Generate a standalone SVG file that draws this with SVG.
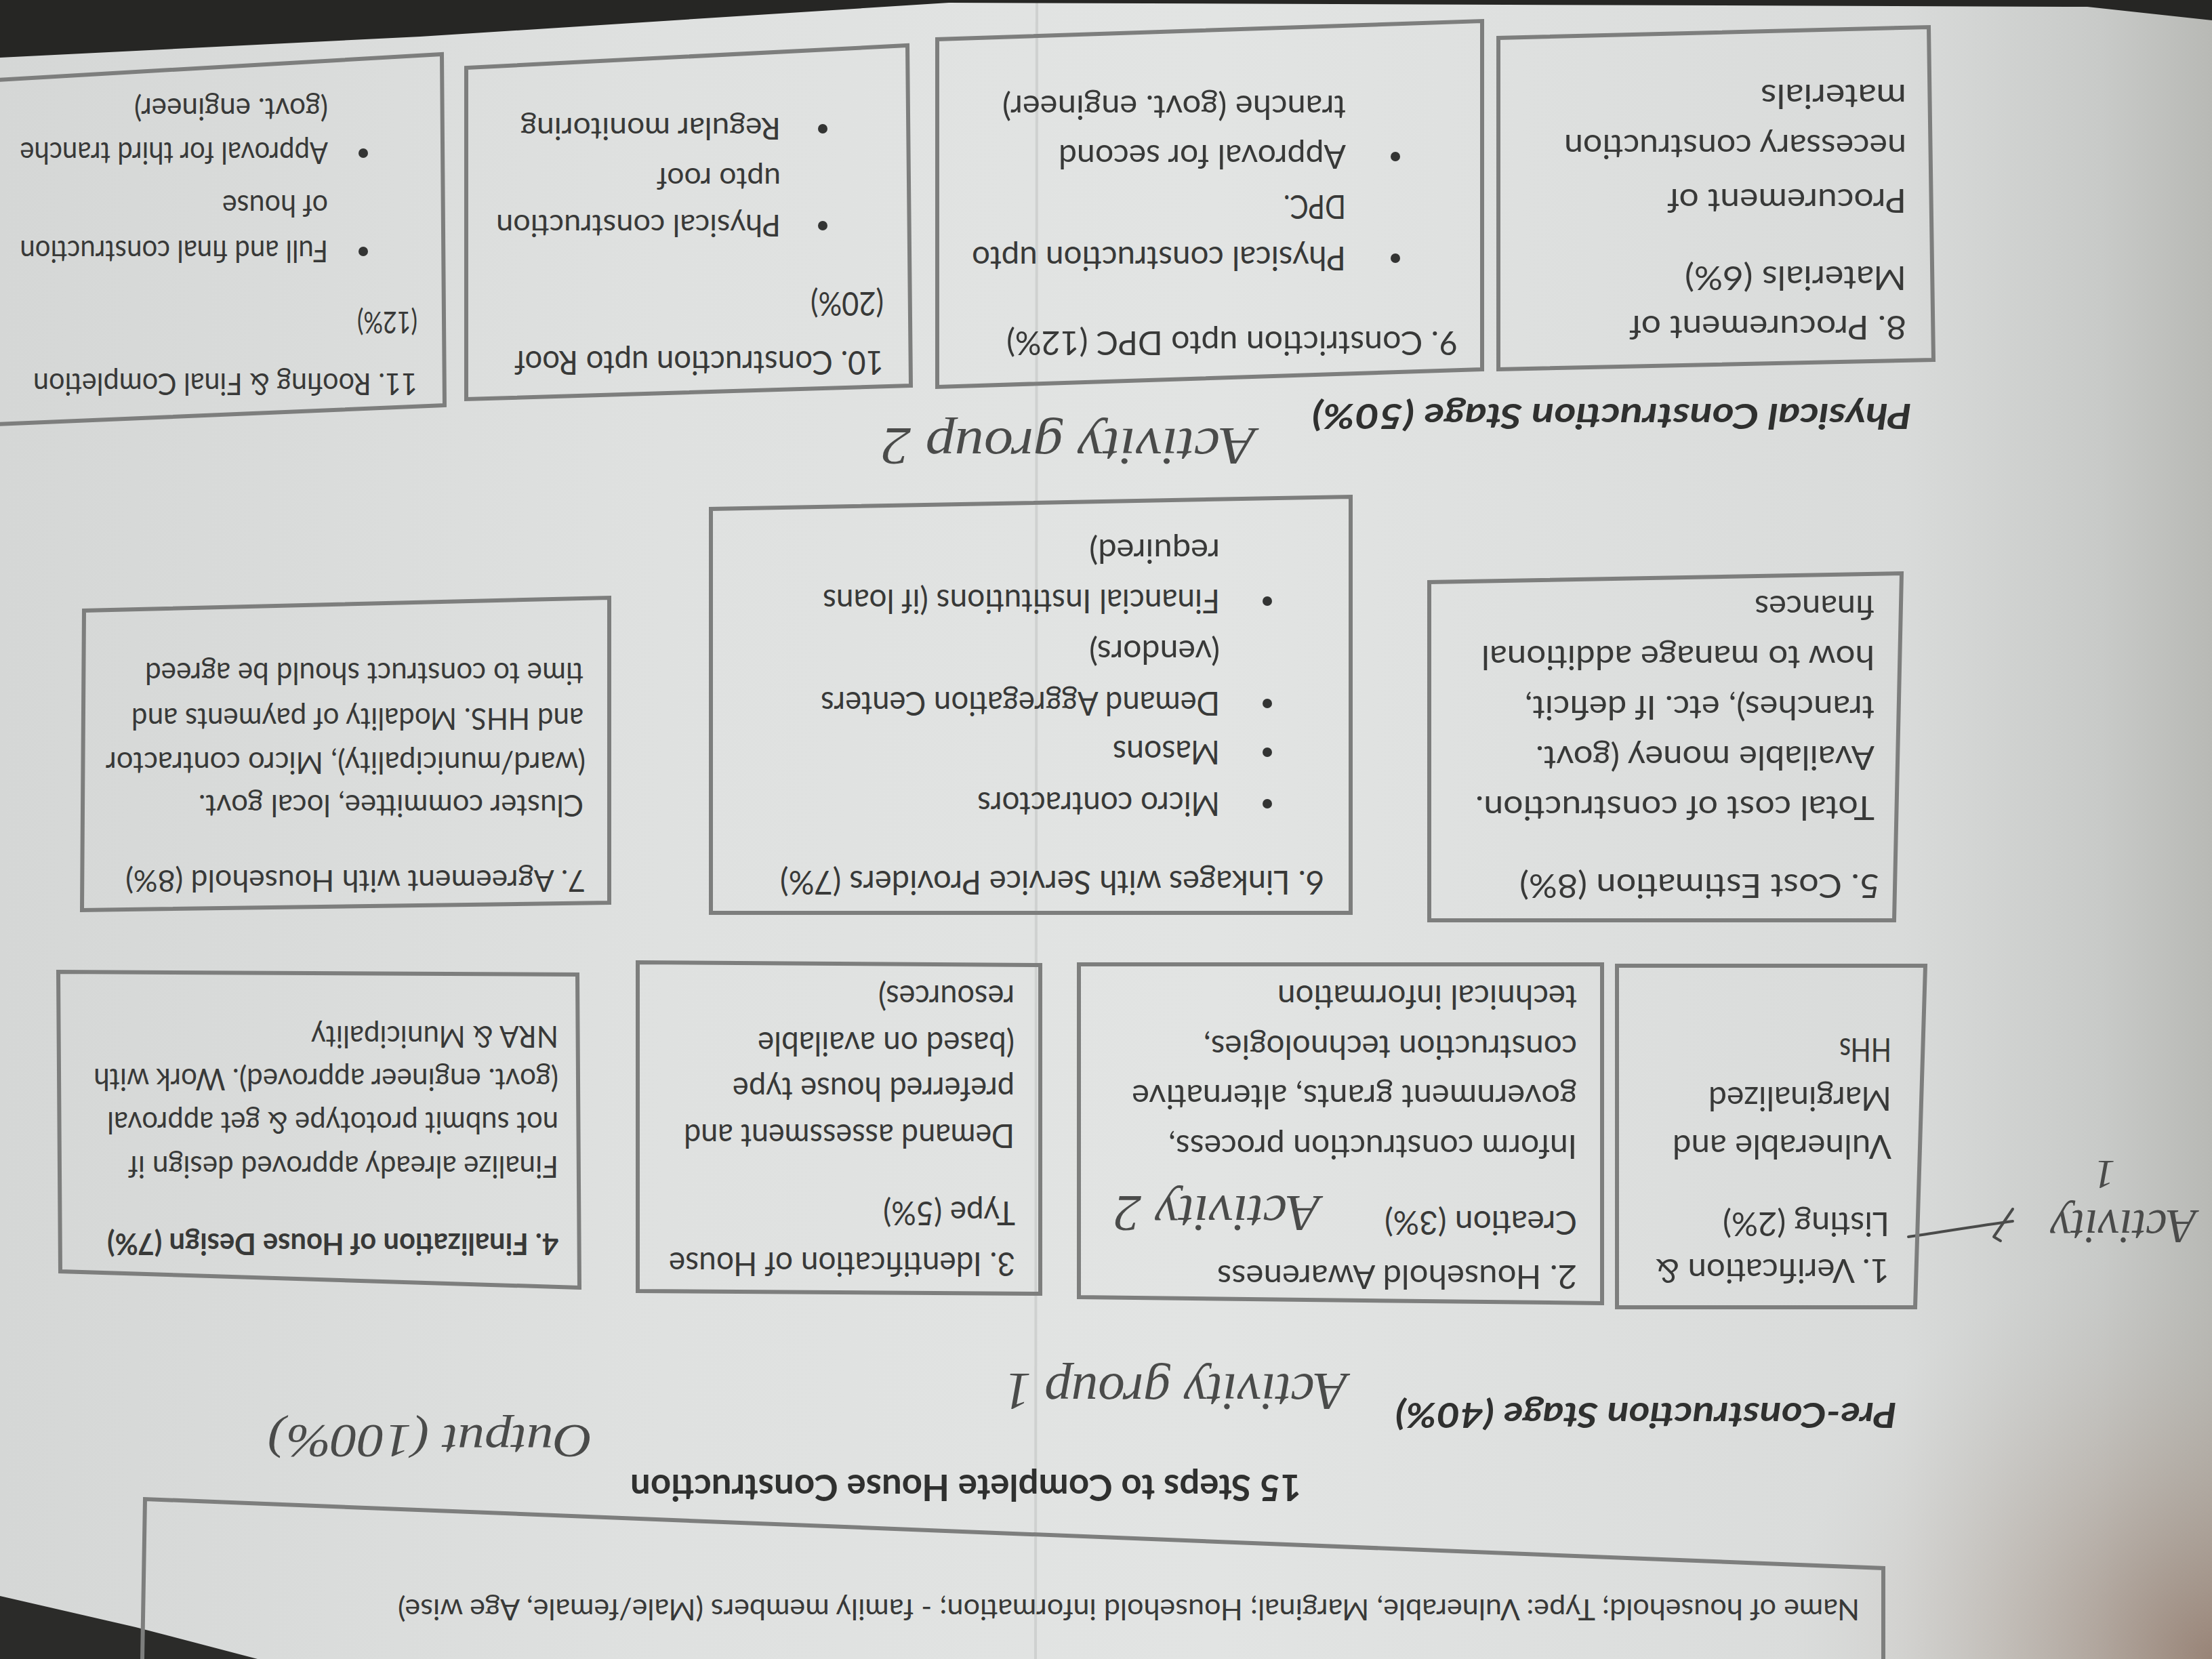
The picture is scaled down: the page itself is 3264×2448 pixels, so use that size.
<svg xmlns="http://www.w3.org/2000/svg" width="3264" height="2448" viewBox="0 0 3264 2448">
  <defs>
    <linearGradient id="paper" x1="0" y1="0" x2="1" y2="0">
      <stop offset="0" stop-color="#d5d7d6"/>
      <stop offset="0.3" stop-color="#dfe1e0"/>
      <stop offset="0.55" stop-color="#e2e4e3"/>
      <stop offset="0.86" stop-color="#d9dbda"/>
      <stop offset="0.95" stop-color="#c8cac8"/>
      <stop offset="1" stop-color="#b8b9b5"/>
    </linearGradient>
    <radialGradient id="warm" cx="3264" cy="2448" r="620" gradientUnits="userSpaceOnUse">
      <stop offset="0" stop-color="#8e7262" stop-opacity="0.75"/>
      <stop offset="0.5" stop-color="#a8978a" stop-opacity="0.35"/>
      <stop offset="1" stop-color="#c0bdb8" stop-opacity="0"/>
    </radialGradient>
    <style>
      .box { fill: none; stroke: #7d7e7d; stroke-width: 6; stroke-linejoin: miter; }
      .t { font-family: Lato, "Open Sans", sans-serif; font-size: 48px; fill: #383938; }
      .c { font-family: Lato, "Open Sans", sans-serif; font-size: 44px; fill: #383938; }
      .b { font-weight: bold; }
      .title { font-family: Lato, "Open Sans", sans-serif; font-size: 54px; font-weight: bold; fill: #2f302f; }
      .stage { font-family: Lato, "Open Sans", sans-serif; font-size: 52px; font-weight: bold; font-style: italic; fill: #2f302f; }
      .hw { font-family: "Liberation Serif", "DejaVu Serif", serif; font-style: italic; fill: #4a4b4a; }
      .pen { fill: none; stroke: #4a4b4a; stroke-width: 4; stroke-linecap: round; stroke-linejoin: round; }
      .dot { fill: #333433; }
    </style>
  </defs>

  <!-- sheet of paper and the surface around it -->
  <rect x="0" y="0" width="3264" height="2448" fill="url(#paper)"/>
  <rect x="2600" y="1800" width="664" height="648" fill="url(#warm)"/>
  <line x1="1530" y1="0" x2="1528" y2="2448" stroke="#cfd1d0" stroke-width="4"/>
  <polygon points="0,0 3264,0 3264,30 3080,10 1400,4 620,54 0,85" fill="#262624"/>
  <polygon points="0,2355 200,2401 380,2448 0,2448" fill="#2b2b29"/>

  <!-- the printed sheet, which lies upside down -->
  <g transform="rotate(180 1632 1224)">

    <!-- header strip -->
    <g id="header">
      <polyline class="box" points="485,0 485,134 3050,236 3054,0"/>
      <text class="t" x="520" y="88" style="font-size:42px" textLength="2157" lengthAdjust="spacingAndGlyphs">Name of household; Type: Vulnerable, Marginal; Household information; - family members (Male/female, Age wise)</text>
    </g>

    <g id="title">
      <text class="title" x="1344" y="272" textLength="990" lengthAdjust="spacingAndGlyphs">15 Steps to Complete House Construction</text>
    </g>

    <g id="stage-pre">
      <text class="stage" x="465" y="378" textLength="740" lengthAdjust="spacingAndGlyphs">Pre-Construction Stage (40%)</text>
    </g>

    <!-- pen notes -->
    <g id="notes">
      <text class="hw" x="2390" y="345" style="font-size:70px" textLength="479" lengthAdjust="spacingAndGlyphs">Output (100%)</text>
      <text class="hw" x="1276" y="420" style="font-size:78px" textLength="506" lengthAdjust="spacingAndGlyphs">Activity group 1</text>
      <text class="hw" x="1316" y="683" style="font-size:76px" textLength="304" lengthAdjust="spacingAndGlyphs">Activity 2</text>
      <text class="hw" x="23" y="662" style="font-size:72px" textLength="216" lengthAdjust="spacingAndGlyphs">Activity</text>
      <text class="hw" x="143" y="735" style="font-size:62px">1</text>
      <text class="hw" x="1411" y="1815" style="font-size:78px" textLength="552" lengthAdjust="spacingAndGlyphs">Activity group 2</text>
    </g>

    <g id="connectors">
      <path class="pen" d="M448,623 C400,630 340,640 294,646"/>
      <path class="pen" d="M312,617 L322,623 L294,664"/>
    </g>

    <!-- pre-construction steps -->
    <g id="n1">
      <polygon class="box" points="438,519 878,519 878,1023 423,1023"/>
      <text class="t" x="476" y="590" textLength="345" lengthAdjust="spacingAndGlyphs">1. Verification &amp;</text>
      <text class="t" x="476" y="659" textLength="246" lengthAdjust="spacingAndGlyphs">Listing (2%)</text>
      <text class="t" x="473" y="773" textLength="323" lengthAdjust="spacingAndGlyphs">Vulnerable and</text>
      <text class="t" x="473" y="844" textLength="270" lengthAdjust="spacingAndGlyphs">Marginalized</text>
      <text class="t" x="473" y="916" textLength="77" lengthAdjust="spacingAndGlyphs">HHs</text>
    </g>

    <g id="n2">
      <polygon class="box" points="900,525 1672,534 1672,1025 900,1025"/>
      <text class="t" x="937" y="581" textLength="531" lengthAdjust="spacingAndGlyphs">2. Household Awareness</text>
      <text class="t" x="937" y="661" textLength="284" lengthAdjust="spacingAndGlyphs">Creation (3%)</text>
      <text class="t" x="937" y="773" textLength="603" lengthAdjust="spacingAndGlyphs">Inform construction process,</text>
      <text class="t" x="937" y="847" textLength="657" lengthAdjust="spacingAndGlyphs">government grants, alternative</text>
      <text class="t" x="937" y="920" textLength="551" lengthAdjust="spacingAndGlyphs">construction technologies,</text>
      <text class="t" x="937" y="994" textLength="442" lengthAdjust="spacingAndGlyphs">technical information</text>
    </g>

    <g id="n3">
      <polygon class="box" points="1729,539 2323,543 2323,1028 1729,1024"/>
      <text class="t" x="1766" y="600" textLength="511" lengthAdjust="spacingAndGlyphs">3. Identification of House</text>
      <text class="t" x="1766" y="675" textLength="195" lengthAdjust="spacingAndGlyphs">Type (5%)</text>
      <text class="t" x="1767" y="789" textLength="488" lengthAdjust="spacingAndGlyphs">Demand assessment and</text>
      <text class="t" x="1767" y="858" textLength="416" lengthAdjust="spacingAndGlyphs">preferred house type</text>
      <text class="t" x="1767" y="925" textLength="379" lengthAdjust="spacingAndGlyphs">(based on available</text>
      <text class="t" x="1767" y="994" textLength="201" lengthAdjust="spacingAndGlyphs">resources)</text>
    </g>

    <g id="n4">
      <polygon class="box" points="2409,548 3175,572 3178,1014 2412,1010"/>
      <text class="c b" x="2440" y="628" textLength="666" lengthAdjust="spacingAndGlyphs">4. Finalization of House Design (7%)</text>
      <text class="c" x="2440" y="742" textLength="635" lengthAdjust="spacingAndGlyphs">Finalize already approved design if</text>
      <text class="c" x="2440" y="807" textLength="666" lengthAdjust="spacingAndGlyphs">not submit prototype &amp; get approval</text>
      <text class="c" x="2440" y="871" textLength="686" lengthAdjust="spacingAndGlyphs">(govt. engineer approved). Work with</text>
      <text class="c" x="2440" y="934" textLength="365" lengthAdjust="spacingAndGlyphs">NRA &amp; Municipality</text>
    </g>

    <g id="n5">
      <polygon class="box" points="469,1090 1155,1090 1155,1589 458,1602"/>
      <text class="t" x="490" y="1158" textLength="532" lengthAdjust="spacingAndGlyphs">5. Cost Estimation (8%)</text>
      <text class="t" x="498" y="1273" textLength="589" lengthAdjust="spacingAndGlyphs">Total cost of construction.</text>
      <text class="t" x="498" y="1347" textLength="500" lengthAdjust="spacingAndGlyphs">Available money (govt.</text>
      <text class="t" x="498" y="1421" textLength="516" lengthAdjust="spacingAndGlyphs">tranches), etc. If deficit,</text>
      <text class="t" x="498" y="1495" textLength="580" lengthAdjust="spacingAndGlyphs">how to manage additional</text>
      <text class="t" x="498" y="1569" textLength="177" lengthAdjust="spacingAndGlyphs">finances</text>
    </g>

    <g id="n6">
      <polygon class="box" points="1271,1101 2215,1101 2215,1697 1271,1715"/>
      <text class="t" x="1310" y="1163" textLength="803" lengthAdjust="spacingAndGlyphs">6. Linkages with Service Providers (7%)</text>
      <circle class="dot" cx="1394" cy="1262" r="7"/>
      <text class="t" x="1464" y="1279" textLength="358" lengthAdjust="spacingAndGlyphs">Micro contractors</text>
      <circle class="dot" cx="1394" cy="1338" r="7"/>
      <text class="t" x="1464" y="1355" textLength="158" lengthAdjust="spacingAndGlyphs">Masons</text>
      <circle class="dot" cx="1394" cy="1410" r="7"/>
      <text class="t" x="1464" y="1427" textLength="589" lengthAdjust="spacingAndGlyphs">Demand Aggregation Centers</text>
      <text class="t" x="1464" y="1503" textLength="193" lengthAdjust="spacingAndGlyphs">(vendors)</text>
      <circle class="dot" cx="1394" cy="1561" r="7"/>
      <text class="t" x="1464" y="1578" textLength="586" lengthAdjust="spacingAndGlyphs">Financial Institutions (if loans</text>
      <text class="t" x="1464" y="1652" textLength="193" lengthAdjust="spacingAndGlyphs">required)</text>
    </g>

    <g id="n7">
      <polygon class="box" points="2365,1116 3143,1105 3140,1547 2365,1566"/>
      <text class="c" x="2400" y="1164" textLength="679" lengthAdjust="spacingAndGlyphs">7. Agreement with Household (8%)</text>
      <text class="c" x="2403" y="1275" textLength="568" lengthAdjust="spacingAndGlyphs">Cluster committee, local govt.</text>
      <text class="c" x="2400" y="1338" textLength="708" lengthAdjust="spacingAndGlyphs">(ward/municipality), Micro contractor</text>
      <text class="c" x="2403" y="1403" textLength="667" lengthAdjust="spacingAndGlyphs">and HHS. Modality of payments and</text>
      <text class="c" x="2403" y="1470" textLength="647" lengthAdjust="spacingAndGlyphs">time to construct should be agreed</text>
    </g>

    <!-- physical construction steps -->
    <g id="stage-physical">
      <text class="stage" x="443" y="1852" textLength="885" lengthAdjust="spacingAndGlyphs">Physical Construction Stage (50%)</text>
    </g>

    <g id="n8">
      <polygon class="box" points="411,1917 1053,1903 1053,2392 418,2408"/>
      <text class="t" x="451" y="1982" textLength="409" lengthAdjust="spacingAndGlyphs">8. Procurement of</text>
      <text class="t" x="451" y="2055" textLength="327" lengthAdjust="spacingAndGlyphs">Materials (6%)</text>
      <text class="t" x="451" y="2169" textLength="353" lengthAdjust="spacingAndGlyphs">Procurement of</text>
      <text class="t" x="451" y="2249" textLength="505" lengthAdjust="spacingAndGlyphs">necessary construction</text>
      <text class="t" x="451" y="2323" textLength="215" lengthAdjust="spacingAndGlyphs">materials</text>
    </g>

    <g id="n9">
      <polygon class="box" points="1077,1903 1881,1877 1881,2390 1077,2417"/>
      <text class="t" x="1113" y="1959" textLength="666" lengthAdjust="spacingAndGlyphs">9. Constriction upto DPC (12%)</text>
      <circle class="dot" cx="1205" cy="2067" r="7"/>
      <text class="t" x="1278" y="2084" textLength="552" lengthAdjust="spacingAndGlyphs">Physical construction upto</text>
      <text class="t" x="1278" y="2160" textLength="92" lengthAdjust="spacingAndGlyphs">DPC.</text>
      <circle class="dot" cx="1205" cy="2217" r="7"/>
      <text class="t" x="1278" y="2234" textLength="424" lengthAdjust="spacingAndGlyphs">Approval for second</text>
      <text class="t" x="1278" y="2307" textLength="507" lengthAdjust="spacingAndGlyphs">tranche (govt. engineer)</text>
    </g>

    <g id="n10">
      <polygon class="box" points="1920,1879 2576,1859 2576,2348 1925,2381"/>
      <text class="t" x="1960" y="1930" textLength="545" lengthAdjust="spacingAndGlyphs">10. Construction upto Roof</text>
      <text class="t" x="1960" y="2017" textLength="108" lengthAdjust="spacingAndGlyphs">(20%)</text>
      <circle class="dot" cx="2050" cy="2115" r="7"/>
      <text class="c" x="2112" y="2131" textLength="420" lengthAdjust="spacingAndGlyphs">Physical construction</text>
      <text class="c" x="2112" y="2200" textLength="183" lengthAdjust="spacingAndGlyphs">upto roof</text>
      <circle class="dot" cx="2050" cy="2258" r="7"/>
      <text class="c" x="2112" y="2274" textLength="384" lengthAdjust="spacingAndGlyphs">Regular monitoring</text>
    </g>

    <g id="n11">
      <polygon class="box" points="2608,1850 3270,1822 3270,2330 2612,2368"/>
      <text class="c" x="2648" y="1897" textLength="567" lengthAdjust="spacingAndGlyphs">11. Roofing &amp; Final Completion</text>
      <text class="c" x="2648" y="1988" textLength="89" lengthAdjust="spacingAndGlyphs">(12%)</text>
      <circle class="dot" cx="2728" cy="2077" r="7"/>
      <!-- the two long lines are set narrow so they stay on the sheet -->
      <text class="c" transform="translate(2780 2093) scale(0.85 1)" x="0" y="0" textLength="535" lengthAdjust="spacingAndGlyphs">Full and final construction</text>
      <text class="c" x="2780" y="2160" textLength="156" lengthAdjust="spacingAndGlyphs">of house</text>
      <circle class="dot" cx="2728" cy="2222" r="7"/>
      <text class="c" transform="translate(2780 2238) scale(0.85 1)" x="0" y="0" textLength="535" lengthAdjust="spacingAndGlyphs">Approval for third tranche</text>
      <text class="c" x="2780" y="2303" textLength="286" lengthAdjust="spacingAndGlyphs">(govt. engineer)</text>
    </g>
  </g>
</svg>
